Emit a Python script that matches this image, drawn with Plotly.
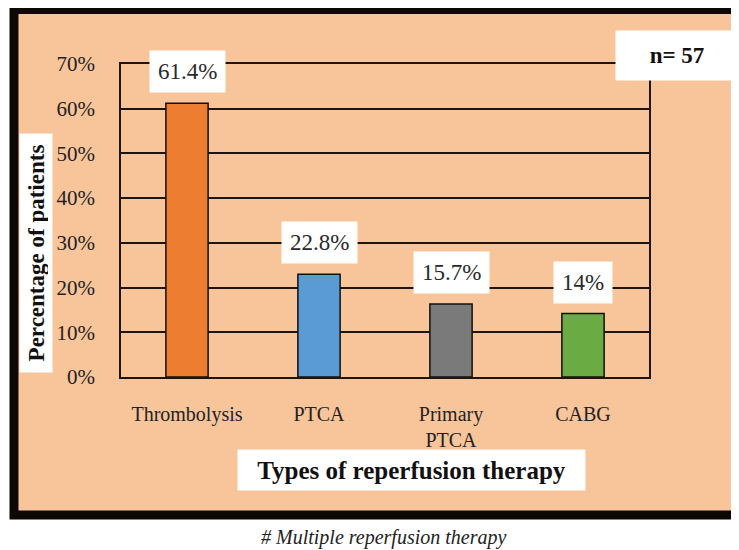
import plotly.graph_objects as go

# data
categories = ["Thrombolysis", "PTCA", "Primary<br>PTCA", "CABG"]
values = [61.2, 23.0, 16.3, 14.2]
labels = ["61.4%", "22.8%", "15.7%", "14%"]
colors = ["#ED7D31", "#5B9BD5", "#7A7A7A", "#6AAB44"]
y_ticks = [0, 10, 20, 30, 40, 50, 60, 70]
y_tick_text = [f"{v}%" for v in y_ticks]

OFF = 8                          # page body margin
W, H = 739 - OFF, 550 - OFF
L, R, T, B = 121, 649, 64, 377   # plot area in window pixels
PEACH = "#F8C49A"
SERIF = "Liberation Serif, Times New Roman, serif"
DARK = "#1e1410"

# window pixel -> paper coords
def px(x):
    return (x - L) / (R - L)

def py(y):
    return (B - y) / (B - T)

fig = go.Figure(go.Bar(
    x=categories, y=values, width=0.32,
    marker=dict(color=colors, line=dict(color="#111", width=1.5)),
    hoverinfo="skip",
))

annotations = []
# bar labels in white boxes
for c, v, t in zip(categories, values, labels):
    annotations.append(dict(
        x=c, y=v, text=t, showarrow=False, xanchor="center", yanchor="bottom", yshift=10,
        bgcolor="white", borderpad=8,
        font=dict(family=SERIF, size=23, color="#2a2a2a"),
    ))

def box(x, y, text, **kw):
    d = dict(xref="paper", yref="paper", x=px(x), y=py(y), text=text,
             showarrow=False, xanchor="center", yanchor="middle")
    d.update(kw)
    return d

# n box
annotations.append(box(677, 56, "<b>n= 57</b>", bgcolor="white", width=106, height=33, borderpad=8,
                       font=dict(family=SERIF, size=23, color="#111")))
# y title
annotations.append(box(36, 253, "<b>Percentage of patients</b>", textangle=-90,
                       bgcolor="white", width=230, height=24, borderpad=4,
                       font=dict(family=SERIF, size=23, color="#111")))
# x title
annotations.append(box(411, 470, "<b>Types of reperfusion therapy</b>",
                       bgcolor="white", width=337, height=30, borderpad=5,
                       font=dict(family=SERIF, size=25, color="#111")))
# caption
annotations.append(box(383, 537, "<i># Multiple reperfusion therapy</i>",
                       font=dict(family=SERIF, size=20, color="#222")))

# peach panel with thick black frame
shapes = [dict(
    type="rect", xref="paper", yref="paper", layer="below",
    x0=px(14), x1=px(760), y0=py(9.5), y1=py(515),
    fillcolor=PEACH, line=dict(color="#0d0805", width=9),
)]

fig.update_layout(
    width=W, height=H,
    margin=dict(l=L - OFF, r=739 - R, t=T - OFF, b=550 - B),
    paper_bgcolor="white", plot_bgcolor=PEACH,
    showlegend=False,
    annotations=annotations, shapes=shapes,
    xaxis=dict(
        showgrid=False, showline=True, mirror=True, linecolor=DARK, linewidth=1.5,
        ticks="", ticklabelstandoff=18,
        tickfont=dict(family=SERIF, size=20, color="#222"),
    ),
    yaxis=dict(
        range=[0, 70], tickvals=y_ticks, ticktext=y_tick_text,
        showgrid=True, gridcolor=DARK, gridwidth=1.5, zeroline=False,
        showline=True, mirror=True, linecolor=DARK, linewidth=1.5,
        ticks="", ticklabelstandoff=20,
        tickfont=dict(family=SERIF, size=21, color="#222"),
    ),
)

fig.write_html("out.html")
